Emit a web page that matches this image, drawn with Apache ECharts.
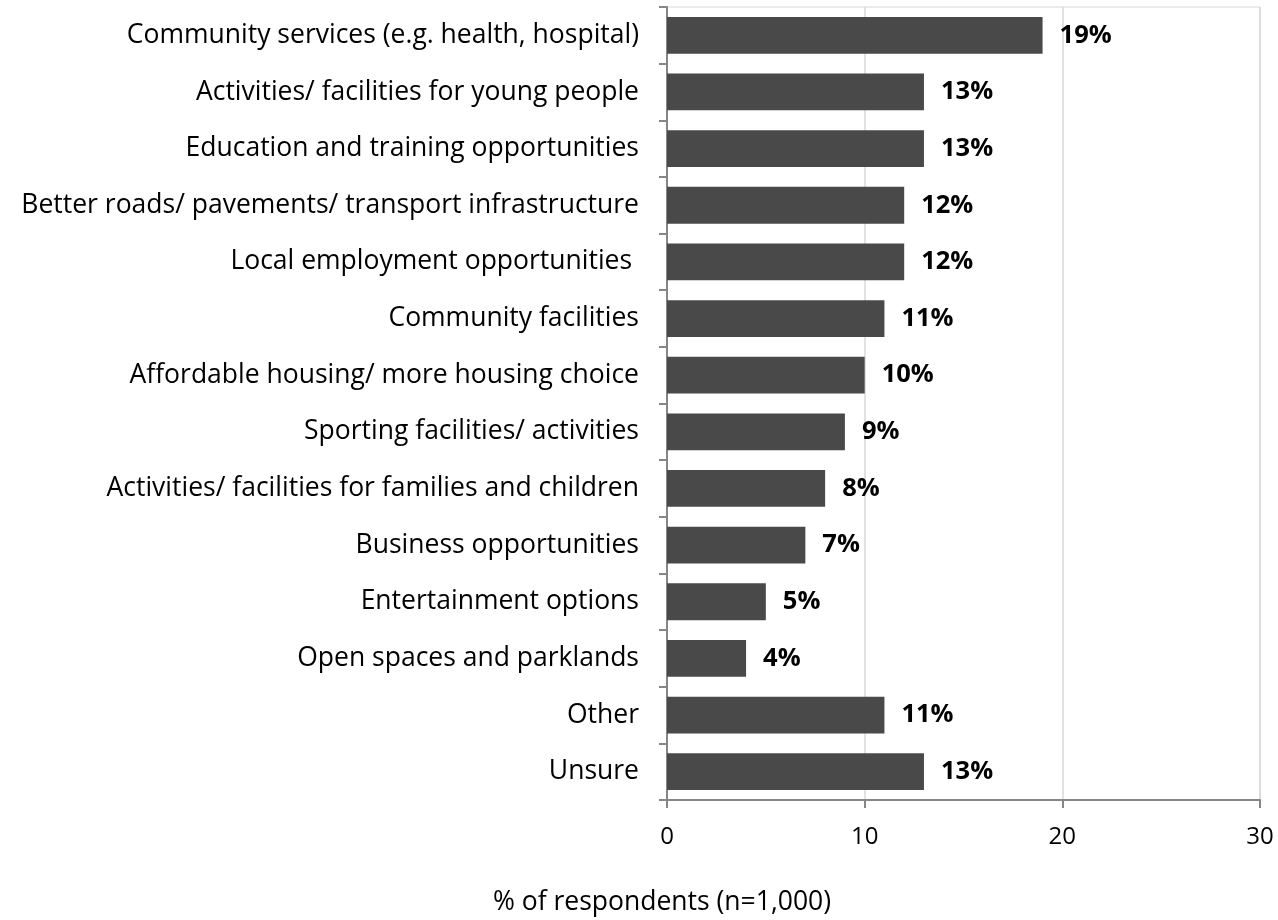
<!DOCTYPE html>
<html>
<head>
<meta charset="utf-8">
<script src="https://cdn.jsdelivr.net/npm/echarts@6/dist/echarts.min.js"></script>
<style>
  html, body { margin: 0; padding: 0; background: #ffffff; }
  #chart { width: 1278px; height: 920px; }
</style>
</head>
<body>
<div id="chart"></div>
<script>
// Categories listed top to bottom
const categories = [
  'Community services (e.g. health, hospital)',
  'Activities/ facilities for young people',
  'Education and training opportunities',
  'Better roads/ pavements/ transport infrastructure',
  'Local employment opportunities ',
  'Community facilities',
  'Affordable housing/ more housing choice',
  'Sporting facilities/ activities',
  'Activities/ facilities for families and children',
  'Business opportunities',
  'Entertainment options',
  'Open spaces and parklands',
  'Other',
  'Unsure'
];
// Share of respondents, %
const values = [19, 13, 13, 12, 12, 11, 10, 9, 8, 7, 5, 4, 11, 13];
const axisTicks = [0, 10, 20, 30];
const axisTitle = '% of respondents (n=1,000)';

const FONT = '"Open Sans", "Noto Sans", sans-serif';

const chart = echarts.init(document.getElementById('chart'), null, { renderer: 'canvas' });

chart.setOption({
  animation: false,
  backgroundColor: '#ffffff',
  title: {
    text: axisTitle,
    left: 657,
    textAlign: 'center',
    top: 884,
    textStyle: { fontFamily: FONT, fontSize: 26.5, fontWeight: 'normal', color: '#000000' }
  },
  grid: {
    left: 667, right: 18, top: 7, bottom: 120,
    show: true, borderColor: '#d9d9d9', borderWidth: 1, backgroundColor: 'transparent'
  },
  xAxis: {
    type: 'value',
    min: axisTicks[0],
    max: axisTicks[axisTicks.length - 1],
    interval: 10,
    axisLine: { show: true, lineStyle: { color: '#868686', width: 2 } },
    axisTick: { show: true, length: 8, lineStyle: { color: '#868686', width: 2 } },
    splitLine: { show: true, lineStyle: { color: '#d9d9d9', width: 1.5 } },
    axisLabel: { margin: 25, fontFamily: FONT, fontSize: 24, color: '#000000' }
  },
  yAxis: {
    type: 'category',
    inverse: true,
    data: categories,
    axisLine: { show: true, lineStyle: { color: '#868686', width: 2 } },
    axisTick: { show: true, length: 8, lineStyle: { color: '#868686', width: 2 } },
    axisLabel: { margin: 28, fontFamily: FONT, fontSize: 26.5, color: '#000000' }
  },
  series: [{
    type: 'bar',
    data: values,
    barWidth: '65%',
    itemStyle: { color: '#494949' },
    label: {
      show: true,
      position: 'right',
      distance: 17,
      formatter: p => p.value + '%',
      fontFamily: FONT,
      fontSize: 25.5,
      fontWeight: 'bold',
      color: '#000000'
    }
  }]
});
</script>
</body>
</html>
